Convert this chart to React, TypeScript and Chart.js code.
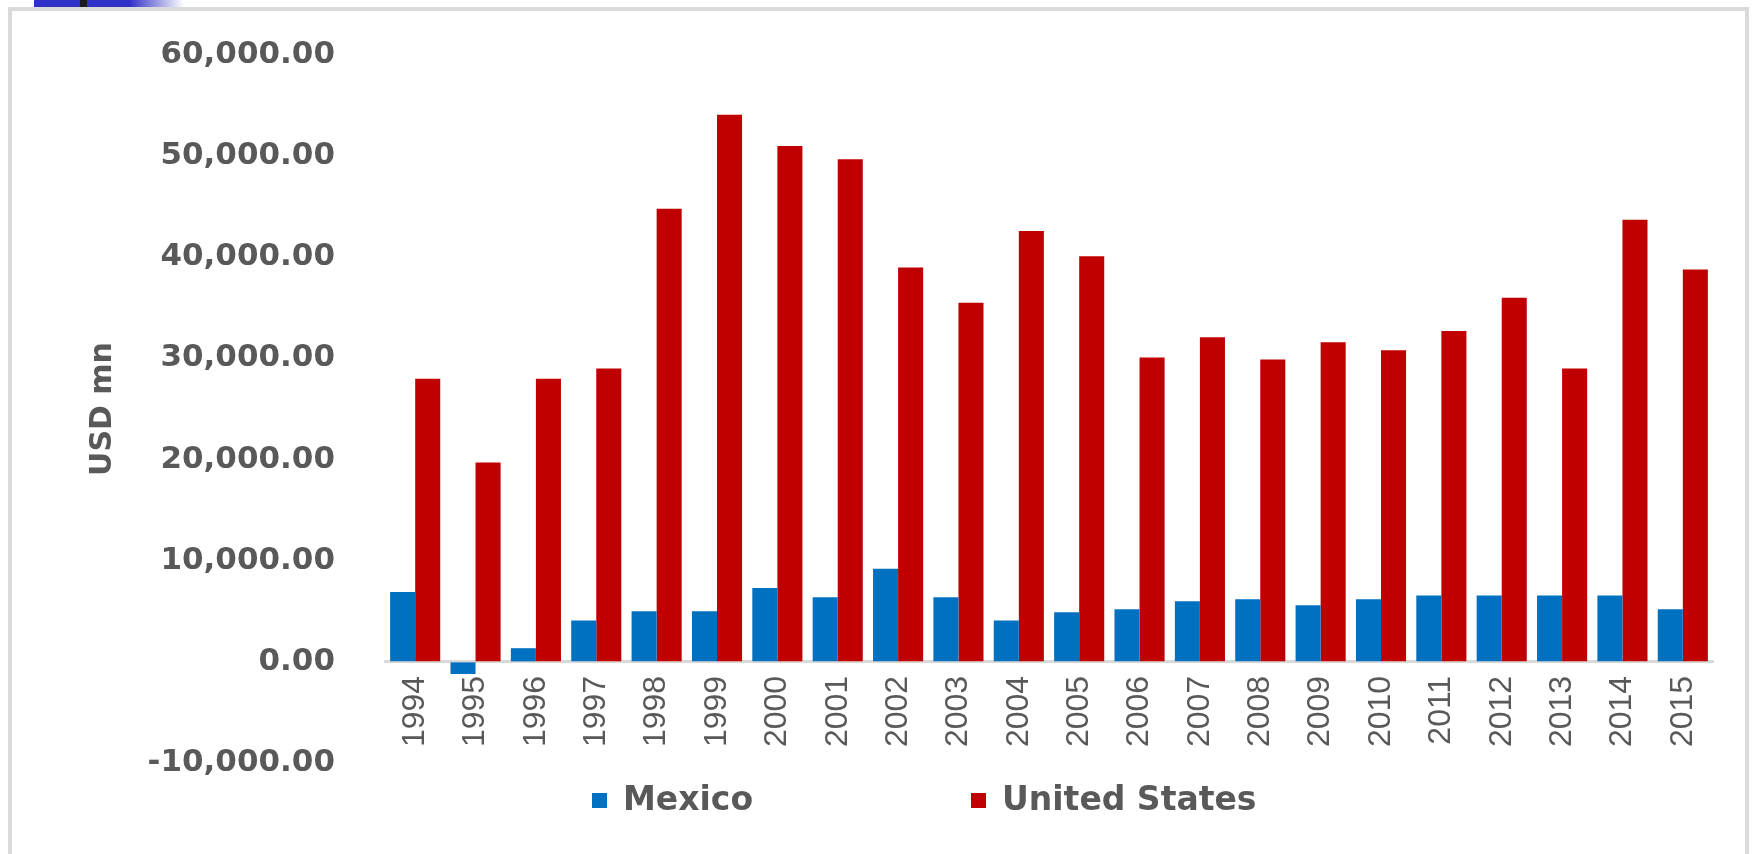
import React, { useEffect, useRef } from "react";
import { Chart, registerables } from "chart.js";

Chart.register(...registerables);

// ---- data ----
const years = [
  "1994", "1995", "1996", "1997", "1998", "1999", "2000", "2001", "2002", "2003", "2004",
  "2005", "2006", "2007", "2008", "2009", "2010", "2011", "2012", "2013", "2014", "2015",
];
const mexico = [
  6900, -1200, 1350, 4100, 5000, 5000, 7300, 6400, 9200, 6400, 4100,
  4900, 5200, 6000, 6200, 5600, 6200, 6550, 6550, 6550, 6550, 5200,
];
const unitedStates = [
  28000, 19700, 28000, 29000, 44800, 54100, 51000, 49700, 39000, 35500, 42600,
  40100, 30100, 32100, 29900, 31600, 30800, 32700, 36000, 29000, 43700, 38800,
];
const seriesNames = ["Mexico", "United States"];
const seriesColors = ["#0070C0", "#C00000"];
const yMin = -10000;
const yMax = 60000;
const yStep = 10000;
const yTitle = "USD mn";

const TEXT = "#595959";
const LEGEND_X = [592, 971];
const LEGEND_Y = 801;

const legendPlugin = {
  id: "excelLegend",
  afterDraw(chart: any) {
    const ctx = chart.ctx;
    ctx.save();
    chart.data.datasets.forEach((ds: any, i: number) => {
      const x = LEGEND_X[i];
      ctx.fillStyle = ds.backgroundColor;
      ctx.fillRect(x, LEGEND_Y - 8, 15, 15);
      ctx.font = 'bold 33px "DejaVu Sans"';
      ctx.fillStyle = TEXT;
      ctx.textAlign = "left";
      ctx.textBaseline = "middle";
      ctx.fillText(ds.label, x + 31, LEGEND_Y);
    });
    ctx.restore();
  },
};

export default function App() {
  const ref = useRef<HTMLCanvasElement>(null);

  useEffect(() => {
    if (!ref.current) return;
    const chart = new Chart(ref.current, {
      type: "bar",
      data: {
        labels: years,
        datasets: [
          {
            label: seriesNames[0],
            data: mexico,
            backgroundColor: seriesColors[0],
            borderWidth: 0,
            categoryPercentage: 0.83,
            barPercentage: 1,
          },
          {
            label: seriesNames[1],
            data: unitedStates,
            backgroundColor: seriesColors[1],
            borderWidth: 0,
            categoryPercentage: 0.83,
            barPercentage: 1,
          },
        ],
      },
      options: {
        animation: false,
        responsive: false,
        devicePixelRatio: 1,
        layout: { padding: { left: 0, right: 48, top: 55, bottom: 91 } },
        plugins: {
          legend: { display: false },
          tooltip: { enabled: false },
        },
        scales: {
          x: {
            type: "category",
            position: { y: 0 } as any,
            grid: { display: false, drawTicks: false },
            border: { display: true, color: "#d9d9d9", width: 3 },
            ticks: {
              autoSkip: false,
              maxRotation: 90,
              minRotation: 90,
              padding: 14,
              color: TEXT,
              font: { family: '"Liberation Sans", Arial, sans-serif', size: 32 },
            },
          },
          y: {
            min: yMin,
            max: yMax,
            grid: {
              display: true,
              drawOnChartArea: false,
              drawTicks: true,
              tickLength: 45,
              color: "rgba(0,0,0,0)",
            },
            border: { display: false },
            ticks: {
              stepSize: yStep,
              padding: 5,
              color: TEXT,
              font: { family: '"DejaVu Sans"', size: 31, weight: "bold" },
              callback: (v: any) =>
                Number(v).toLocaleString("en-US", {
                  minimumFractionDigits: 2,
                  maximumFractionDigits: 2,
                }),
            },
            title: {
              display: true,
              text: yTitle,
              color: TEXT,
              font: { family: '"DejaVu Sans"', size: 30, weight: "bold", lineHeight: 1.2 },
              padding: { top: 85, bottom: 0 },
            },
            afterFit: (scale: any) => {
              scale.width = 385;
            },
          },
        },
      },
      plugins: [legendPlugin],
    });
    return () => chart.destroy();
  }, []);

  return (
    <div>
      <div
        style={{
          position: "fixed",
          left: 34,
          top: 0,
          width: 150,
          height: 7,
          background:
            "linear-gradient(to right, #3030c8 0px, #3030c8 80px, #3030c8 95px, rgba(48,48,200,0) 150px)",
        }}
      />
      <div
        style={{
          position: "fixed",
          left: 80,
          top: 0,
          width: 7,
          height: 7,
          background: "#1a1a1a",
        }}
      />
      <div
        style={{
          position: "fixed",
          left: 8,
          top: 7,
          width: 1741,
          height: 900,
          boxSizing: "border-box",
          border: "4px solid #dadada",
          background: "#ffffff",
        }}
      />
      <canvas
        ref={ref}
        width={1761}
        height={854}
        style={{ position: "fixed", left: 0, top: 0, width: 1761, height: 854 }}
      />
    </div>
  );
}
